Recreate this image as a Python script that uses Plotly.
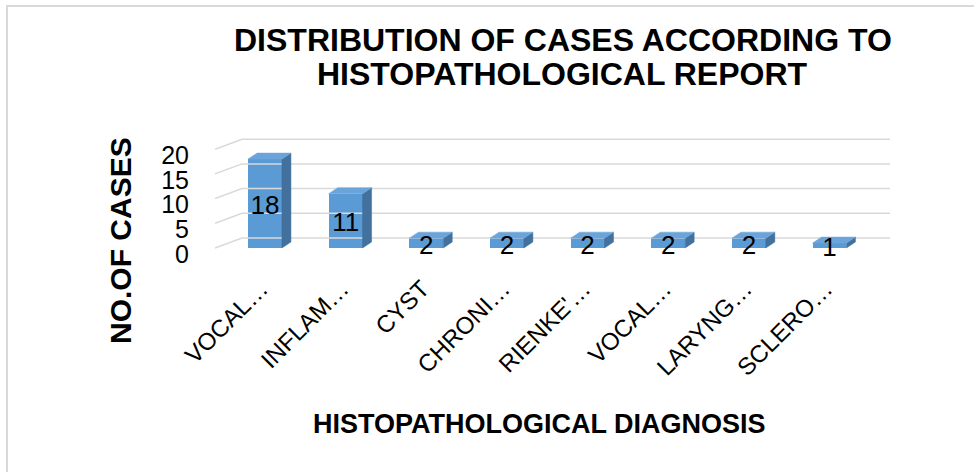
import plotly.graph_objects as go

# ---- data ----
categories = ["VOCAL…", "INFLAM…", "CYST", "CHRONI…", "RIENKE'…", "VOCAL…", "LARYNG…", "SCLERO…"]
values = [18, 11, 2, 2, 2, 2, 2, 1]
y_ticks = [0, 5, 10, 15, 20]
title_lines = ["DISTRIBUTION OF CASES ACCORDING TO", "HISTOPATHOLOGICAL REPORT"]
x_title = "HISTOPATHOLOGICAL DIAGNOSIS"
y_title = "NO.OF CASES"

# ---- layout geometry (pixels) ----
W, H = 974, 472
L, R, T, B = 215, 890, 133, 258
FONT = "Liberation Sans, Arial, sans-serif"
x_range = [-0.62, 7.75]
y_range = [-2.02, 23.28]
ux = (R - L) / (x_range[1] - x_range[0])   # px per x unit
uy = (B - T) / (y_range[1] - y_range[0])   # px per y unit

bar_w = 0.42
dx = 9 / ux      # 3D depth offset
dy = 6 / uy
wall_dx = 27 / ux
wall_dy = 10 / uy
label_drop = 4 / uy

FRONT = "#5B9BD5"
SIDE = "#41719C"
TOP = "#6AA4DA"
GRID = "#D9D9D9"

def px_x(p):
    return (p - L) / (R - L)

def px_y(p):
    return (B - p) / (B - T)

fig = go.Figure()
xs = list(range(len(categories)))

# gridlines (back wall + left wall slant)
for t in y_ticks:
    fig.add_trace(go.Scatter(
        x=[x_range[0], x_range[0] + wall_dx, x_range[1]],
        y=[t, t + wall_dy, t + wall_dy],
        mode="lines", line=dict(color=GRID, width=1.5),
        hoverinfo="skip", showlegend=False, cliponaxis=False))

# bars: side and top faces
for c, v in zip(xs, values):
    xr = c + bar_w / 2
    xl = c - bar_w / 2
    fig.add_trace(go.Scatter(
        x=[xr, xr, xr + dx, xr + dx, xr], y=[0, v, v + dy, dy, 0],
        fill="toself", fillcolor=SIDE, mode="lines",
        line=dict(color=SIDE, width=0.5), hoverinfo="skip", showlegend=False))
    fig.add_trace(go.Scatter(
        x=[xl, xr, xr + dx, xl + dx, xl], y=[v, v, v + dy, v + dy, v],
        fill="toself", fillcolor=TOP, mode="lines",
        line=dict(color=TOP, width=0.5), hoverinfo="skip", showlegend=False))

# front faces
fig.add_trace(go.Bar(x=xs, y=values, width=bar_w, marker=dict(color=FRONT, line=dict(width=0)),
                     showlegend=False, hoverinfo="skip"))

# data labels
fig.add_trace(go.Scatter(
    x=xs, y=[v / 2 - label_drop for v in values], text=[str(v) for v in values], mode="text",
    textfont=dict(family=FONT, size=26, color="#000000"),
    textposition="middle center", showlegend=False, hoverinfo="skip", cliponaxis=False))

fig.update_layout(
    width=W, height=H,
    margin=dict(l=L, r=W - R, t=T, b=H - B, pad=0),
    paper_bgcolor="white", plot_bgcolor="rgba(0,0,0,0)",
    bargap=0,
    xaxis=dict(range=x_range, tickvals=xs, ticktext=categories, tickangle=-45,
               showgrid=False, zeroline=False, showline=False, ticks="",
               tickfont=dict(family=FONT, size=24, color="#000000"),
               ticklabelstandoff=11, ticklabelshift=-4),
    yaxis=dict(range=y_range, tickvals=y_ticks, showgrid=False, zeroline=False,
               showline=False, ticks="",
               tickfont=dict(family=FONT, size=25, color="#000000"),
               ticklabelstandoff=25, ticklabelshift=6),
    annotations=[
        dict(text=f"<b>{title_lines[0]}</b>", xref="paper", yref="paper",
             x=px_x(563), y=px_y(40), showarrow=False, xanchor="center", yanchor="middle",
             font=dict(family=FONT, size=32, color="#000000")),
        dict(text=f"<b>{title_lines[1]}</b>", xref="paper", yref="paper",
             x=px_x(562), y=px_y(74), showarrow=False, xanchor="center", yanchor="middle",
             font=dict(family=FONT, size=32, color="#000000")),
        dict(text=f"<b>{x_title}</b>", xref="paper", yref="paper",
             x=px_x(539), y=px_y(424), showarrow=False, xanchor="center", yanchor="middle",
             font=dict(family=FONT, size=27, color="#000000")),
        dict(text=f"<b>{y_title}</b>", xref="paper", yref="paper", textangle=-90,
             x=px_x(120), y=px_y(241), showarrow=False, xanchor="center", yanchor="middle",
             font=dict(family=FONT, size=30, color="#000000")),
    ],
    shapes=[dict(type="rect", xref="paper", yref="paper",
                 x0=px_x(7), y0=px_y(6), x1=px_x(990), y1=px_y(490),
                 line=dict(color=GRID, width=2), fillcolor="rgba(0,0,0,0)", layer="below")],
)

fig.write_html("out.html", config={"displayModeBar": False},
               post_script="document.body.style.margin='0';")
